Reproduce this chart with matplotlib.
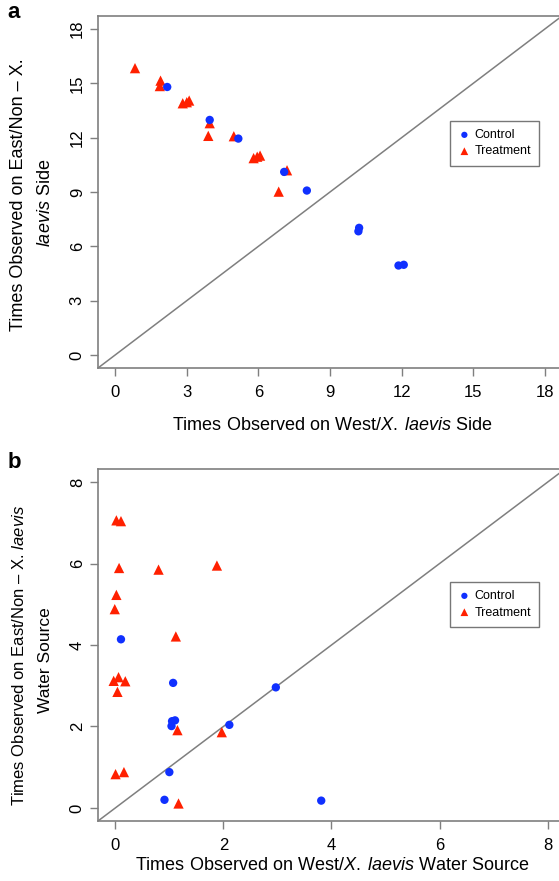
import matplotlib
matplotlib.use("Agg")
import matplotlib.pyplot as plt
import numpy as np

plt.rcParams['font.family'] = ['Liberation Sans', 'DejaVu Sans']
plt.rcParams['mathtext.fontset'] = 'custom'
plt.rcParams['mathtext.rm'] = 'Liberation Sans'
plt.rcParams['mathtext.it'] = 'Liberation Sans:italic'

# Panel a data
a_ctrl_x = [2.18, 3.96, 5.16, 7.08, 8.03, 10.22, 10.19, 11.87, 12.09]
a_ctrl_y = [14.8, 12.98, 11.95, 10.11, 9.08, 7.02, 6.83, 4.94, 4.98]
a_trt_x = [0.83, 1.90, 1.87, 2.83, 3.0, 3.1, 3.96, 3.90, 4.97, 5.80, 6.07, 5.95, 7.2, 6.85]
a_trt_y = [15.84, 15.15, 14.85, 13.9, 13.96, 14.05, 12.8, 12.1, 12.08, 10.87, 11.01, 10.95, 10.2, 9.02]
a_ticks = [0, 3, 6, 9, 12, 15, 18]

# Panel b data
b_ctrl_x = [0.105, 1.07, 2.97, 1.05, 1.105, 1.04, 2.11, 1.0, 0.91, 3.81]
b_ctrl_y = [4.14, 3.07, 2.96, 2.13, 2.15, 2.01, 2.04, 0.88, 0.20, 0.18]
b_trt_x = [0.02, 0.105, 0.07, 0.80, 1.88, 0.02, -0.01, 1.12, -0.03, 0.06, 0.185, 0.04, 1.15, 1.97, 0.005, 0.16, 1.17]
b_trt_y = [7.06, 7.04, 5.89, 5.85, 5.95, 5.23, 4.88, 4.21, 3.12, 3.21, 3.11, 2.85, 1.91, 1.86, 0.83, 0.88, 0.11]
b_ticks = [0, 2, 4, 6, 8]

W, H = 559, 881
fig = plt.figure(figsize=(W / 100, H / 100), dpi=100)

GRAY = '#7f7f7f'


def make_axes(box, lim, ticks, cx, cy, tx, ty, leg_xy):
    l, t, r, b = box
    ax = fig.add_axes([l / W, 1 - b / H, (r - l) / W, (b - t) / H])
    ax.set_xlim(*lim)
    ax.set_ylim(*lim)
    lo, hi = lim
    ax.plot([lo, hi], [lo, hi], color=GRAY, lw=1.1, zorder=1)
    ax.scatter(cx, cy, s=36, c='#1030ff', marker='o', edgecolors='none', zorder=3, label='Control')
    ax.scatter(tx, ty, s=55, c='#ff2000', marker='^', edgecolors='none', zorder=2, label='Treatment')
    for sp in ax.spines.values():
        sp.set_color(GRAY)
        sp.set_linewidth(1.2)
    ax.set_xticks(ticks)
    ax.set_yticks(ticks)
    ax.tick_params(length=6, width=1.0, color=GRAY, labelsize=12, pad=6)
    ax.tick_params(axis='y', labelrotation=90, pad=3.5)
    for lab in ax.get_yticklabels():
        lab.set_va('center')
    leg = ax.legend(loc='upper left', bbox_to_anchor=(leg_xy[0] / W, 1 - leg_xy[1] / H),
                    bbox_transform=fig.transFigure, fontsize=9,
                    frameon=True, fancybox=False, handletextpad=0.3,
                    borderpad=0.65, labelspacing=0.35, handlelength=1.0,
                    markerscale=0.75, borderaxespad=0)
    leg.get_frame().set_edgecolor('#555555')
    leg.get_frame().set_linewidth(1.0)
    return ax


axa = make_axes((98, 16, 562, 368), (-0.72, 18.72), a_ticks, a_ctrl_x, a_ctrl_y, a_trt_x, a_trt_y, (450, 121))
axb = make_axes((98, 469, 565, 821), (-0.32, 8.32), b_ticks, b_ctrl_x, b_ctrl_y, b_trt_x, b_trt_y, (450, 582))

fs = 13
XL = r'$\mathit{X.\;laevis}$'
fig.text(332 / W, 1 - 425 / H, 'Times Observed on West/' + XL + ' Side', ha='center', va='center', fontsize=fs)
fig.text(19 / W, 1 - 195 / H, 'Times Observed on East/Non – X.', ha='center', va='center', rotation=90, fontsize=fs)
fig.text(45 / W, 1 - 203 / H, r'$\mathit{laevis}$ Side', ha='center', va='center', rotation=90, fontsize=fs)

fig.text(332 / W, 1 - 865 / H, 'Times Observed on West/' + XL + ' Water Source', ha='center', va='center', fontsize=fs)
fig.text(19 / W, 1 - 655 / H, r'Times Observed on East/Non – X. $\mathit{laevis}$', ha='center', va='center', rotation=90, fontsize=12)
fig.text(45 / W, 1 - 660 / H, 'Water Source', ha='center', va='center', rotation=90, fontsize=12.5)

fig.text(14 / W, 1 - 13 / H, 'a', ha='center', va='center', fontsize=16, fontweight='bold')
fig.text(14 / W, 1 - 462 / H, 'b', ha='center', va='center', fontsize=16, fontweight='bold')

fig.savefig('out.png', dpi=100)
